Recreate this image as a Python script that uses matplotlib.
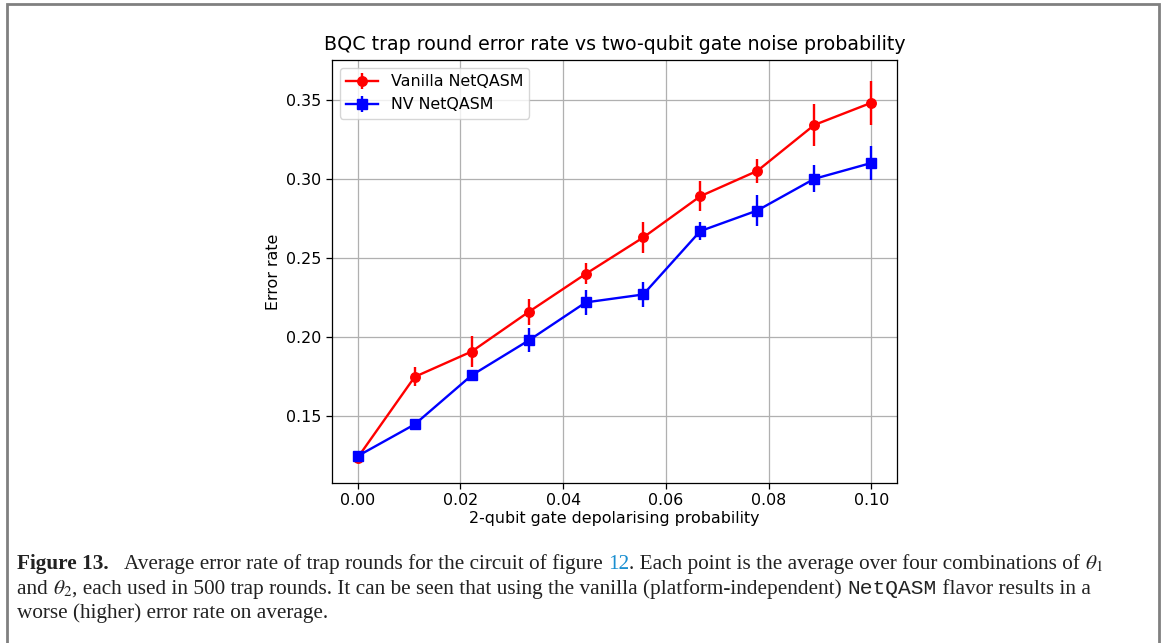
import matplotlib
matplotlib.use("Agg")
import matplotlib.pyplot as plt
from matplotlib.transforms import IdentityTransform
from matplotlib.patches import Rectangle

# Daten
noise_prob = [0.0, 0.0111, 0.0222, 0.0333, 0.0444, 0.0556, 0.0667, 0.0778, 0.0889, 0.1]
vanilla_err = [0.124, 0.175, 0.191, 0.216, 0.240, 0.263, 0.289, 0.305, 0.334, 0.348]
vanilla_std = [0.002, 0.006, 0.0095, 0.008, 0.0066, 0.010, 0.0095, 0.0075, 0.013, 0.014]
nv_err = [0.125, 0.145, 0.176, 0.198, 0.222, 0.227, 0.267, 0.280, 0.300, 0.310]
nv_std = [0.002, 0.002, 0.002, 0.0076, 0.008, 0.0079, 0.0057, 0.0095, 0.0085, 0.011]
x_ticks = [0.00, 0.02, 0.04, 0.06, 0.08, 0.10]
y_ticks = [0.15, 0.20, 0.25, 0.30, 0.35]

s = 1.14  # Skalierung gegenüber Standardgröße
plt.rcParams["font.size"] = 10 * s
plt.rcParams["mathtext.fontset"] = "stix"

fig = plt.figure(figsize=(11.65, 6.43), dpi=100)
ax = fig.add_axes([332 / 1165, 1 - 483 / 643, 565 / 1165, 423 / 643])

ax.errorbar(noise_prob, vanilla_err, yerr=vanilla_std, fmt="-o", color="red",
            lw=1.5 * s, ms=6 * s, elinewidth=1.5 * s, label="Vanilla NetQASM")
ax.errorbar(noise_prob, nv_err, yerr=nv_std, fmt="-s", color="blue",
            lw=1.5 * s, ms=6 * s, elinewidth=1.5 * s, label="NV NetQASM")

ax.set_ylim(0.108, 0.375)
ax.set_xticks(x_ticks)
ax.set_yticks(y_ticks)
ax.set_xticklabels([f"{v:.2f}" for v in x_ticks])
ax.set_yticklabels([f"{v:.2f}" for v in y_ticks])
ax.tick_params(length=3.5 * s, width=0.8 * s, labelsize=10 * s)
for sp in ax.spines.values():
    sp.set_linewidth(0.8 * s)
ax.grid(True, lw=0.8 * s)
ax.set_xlabel("2-qubit gate depolarising probability", fontsize=10 * s, labelpad=2)
ax.set_ylabel("Error rate", fontsize=10 * s)
ax.set_title("BQC trap round error rate vs two-qubit gate noise probability",
             fontsize=12 * s, pad=6 * s)
ax.legend(loc="upper left", fontsize=10 * s)

# Rahmen um die Abbildung (unten abgeschnitten)
fig.patches.append(Rectangle((7, -20), 1152, 659,
                             transform=IdentityTransform(), fill=False,
                             edgecolor="#808080", lw=2))

# Bildunterschrift
renderer = fig.canvas.get_renderer()
H = 643
cap_size = 15.35


def put_line(y_px, parts):
    x = 17
    for txt, kw in parts:
        t = fig.text(x, H - y_px, txt, transform=IdentityTransform(), va="baseline",
                     fontsize=cap_size, color="#222222", **kw)
        x = t.get_window_extent(renderer).x1


serif = {"family": "Liberation Serif"}
put_line(569, [("Figure 13.", dict(serif, weight="bold")),
               ("   Average error rate of trap rounds for the circuit of figure ", serif),
               ("12", dict(serif)),
               (". Each point is the average over four combinations of ", serif),
               (r"$\theta_1$", serif)])
put_line(594, [("and ", serif), (r"$\theta_2$", serif),
               (", each used in 500 trap rounds. It can be seen that using the vanilla "
                "(platform-independent) ", serif),
               ("NetQASM", {"family": "Liberation Mono"}),
               (" flavor results in a", serif)])
put_line(618, [("worse (higher) error rate on average.", serif)])

# Verweis "12" blau einfärben
for t in fig.texts:
    if t.get_text() == "12":
        t.set_color("#1a8fd0")

fig.savefig("out.png", dpi=100)
